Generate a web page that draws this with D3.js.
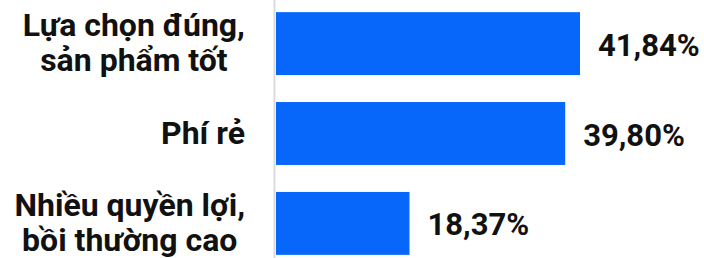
<!DOCTYPE html>
<head>
 <meta charset="utf-8">
 <script src="https://cdn.jsdelivr.net/npm/d3@7"></script>
 <style>
   body { margin: 0; background: #fff; }
   text { font-family: Roboto, "Noto Sans", sans-serif; font-weight: 700; fill: #111; }
 </style>
</head>
<body>
 <div id="chart"></div>
</body>
<script type="text/javascript">
 var props = {
   width: 704,
   height: 258,
   barLeft: 276,
   axisX: 274.5,
   labelRight: 245
 }

 // data
 var categories = ["Lựa chọn đúng,|sản phẩm tốt", "Phí rẻ", "Nhiều quyền lợi,|bồi thường cao"];
 var values = [41.84, 39.80, 18.37];
 var valueLabels = ["41,84%", "39,80%", "18,37%"];

 var svg = d3.select("#chart").append("svg").attr("width", props.width).attr("height", props.height);

 var y = d3.scaleBand().domain(d3.range(categories.length)).range([0, 267]).paddingInner(0.3).paddingOuter(0.135);
 var x = d3.scaleLinear().domain([0, d3.max(values)]).range([0, 304]);

 svg.append("line")
   .attr("x1", props.axisX).attr("x2", props.axisX)
   .attr("y1", 0).attr("y2", props.height)
   .style("stroke", "#dcdcdc")
   .style("stroke-width", 2);

 svg.selectAll(".bar")
   .data(values)
   .enter()
   .append("rect")
   .attr("class", "bar")
   .attr("x", props.barLeft)
   .attr("y", function(d, i){ return y(i); })
   .attr("width", function(d){ return x(d); })
   .attr("height", y.bandwidth())
   .style("fill", "#0867fb");

 svg.selectAll(".value")
   .data(values)
   .enter()
   .append("text")
   .attr("class", "value")
   .attr("x", function(d){ return props.barLeft + x(d) + 18; })
   .attr("y", function(d, i){ return y(i) + y.bandwidth() / 2 + 12; })
   .style("font-size", "31px")
   .text(function(d, i){ return valueLabels[i]; });

 // label block is right aligned, its lines centred inside it
 var lineH = 35;
 svg.selectAll(".cat")
   .data(categories)
   .enter()
   .append("text")
   .attr("class", "cat")
   .attr("text-anchor", "middle")
   .style("font-size", "32px")
   .each(function(d, i){
     var lines = d.split("|");
     var mid = y(i) + y.bandwidth() / 2;
     var first = mid + 10 - (lines.length - 1) * lineH / 2;
     var t = d3.select(this);
     var spans = lines.map(function(l, k){
       return t.append("tspan").attr("y", first + k * lineH).text(l);
     });
     var maxW = d3.max(spans, function(s){ return s.node().getComputedTextLength(); });
     spans.forEach(function(s){ s.attr("x", props.labelRight - maxW / 2); });
   });
</script>
